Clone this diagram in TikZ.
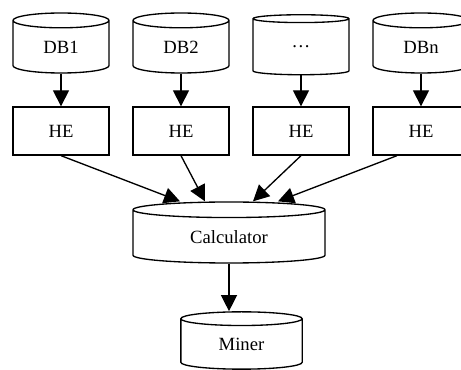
\documentclass[tikz,border=0pt]{standalone}
\usepackage{fontspec}
\setmainfont{Liberation Serif}
\usetikzlibrary{arrows.meta, positioning, shapes.geometric}

\begin{document}
\begin{tikzpicture}[x=0.75pt,y=-0.75pt,node distance=90pt,on grid,
        font=\fontsize{14pt}{17pt}\selectfont,
        store/.style={draw, line width=1pt, cylinder, shape border rotate=90, aspect=0.42,
            minimum width=72pt, minimum height=45pt, inner sep=0pt},
        enc/.style={draw, line width=1pt, rectangle, minimum width=72pt, minimum height=36pt},
        >={Triangle[length=12pt,width=12pt]}]
    \useasboundingbox (0,0) rectangle (461,370);
        \node[store, anchor=shape center] (db1) at (61,43)    {DB1};
        \node[store]   (db2)   [right=of db1]        {DB2};
        \node[store]   (db3)   [right=of db2]        {…};
        \node[store]   (dbn)   [right=of db3]        {DBn};
        \node[enc]     (he1)   at (61,131)           {HE};
        \node[enc]     (he2)   [right=of he1]        {HE};
        \node[enc]     (he3)   [right=of he2]        {HE};
        \node[enc]     (hen)   [right=of he3]        {HE};
        \node[store, minimum width=144pt, minimum height=45.75pt, aspect=0.2, anchor=shape center]
                       (calc)  at (229,232.5)        {Calculator};
        \node[store, minimum width=91pt, minimum height=43pt, aspect=0.3, anchor=shape center]
                       (miner) at (241.5,340.5)      {Miner};

        \path[->, line width=1pt]
        (db1) edge (he1)
        (db2) edge (he2)
        (db3) edge (he3)
        (dbn) edge (hen)
        (he1.south) edge ([xshift=-36.75pt]calc.north)
        (he2.south) edge ([xshift=-18pt]calc.north)
        (he3.south) edge ([xshift=18pt]calc.north)
        ([xshift=-18pt]hen.south) edge ([xshift=36.75pt]calc.north)
        (calc.south) edge (calc.south |- miner.north)
        ;
\end{tikzpicture}
\end{document}
